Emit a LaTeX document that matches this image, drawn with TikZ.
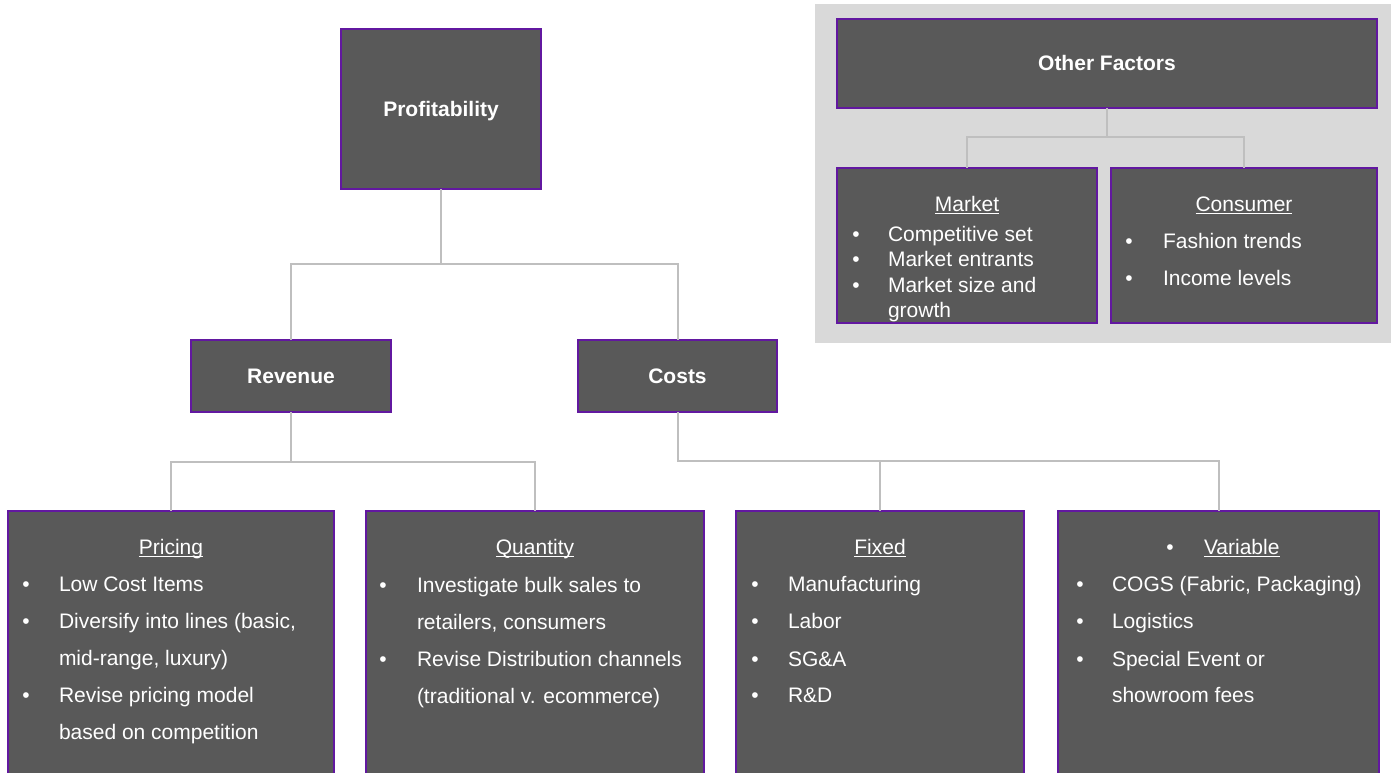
\documentclass[tikz,border=0pt]{standalone}
\usepackage{fontspec}
\setmainfont{Liberation Sans}
\definecolor{boxfill}{HTML}{595959}
\definecolor{boxline}{HTML}{6218A0}
\definecolor{connline}{HTML}{BFBFBF}
\definecolor{panelgray}{HTML}{D9D9D9}
\newcommand\ulin[1]{\setbox0\hbox{#1}\rlap{\rule[-3pt]{\wd0}{1.2pt}}\box0}
\newcommand\bulitem[5]{\node[txt,anchor=base] (#1b) at (#2,#4) {\textbullet}; \node[txt,anchor=base west] (#1) at (#3,#4) {#5};}
\newcommand\contline[4]{\node[txt,anchor=base west] (#1) at (#2,#3) {#4};}
\tikzset{
  box/.style={draw=boxline, fill=boxfill, line width=1.8pt, inner sep=0pt, outer sep=0pt,
    text=white, font=\fontsize{21}{25}\selectfont\bfseries, text height=15pt, text depth=0pt, anchor=north west},
  conn/.style={draw=connline, line width=2pt},
  txt/.style={text=white, font=\fontsize{21}{25}\selectfont, inner sep=0pt, outer sep=0pt},
}
\begin{document}
\begin{tikzpicture}[x=1pt, y=-1pt]
\clip (0,0) rectangle (1391,773);
\fill[white] (0,0) rectangle (1391,773);
% panel
\node[fill=panelgray, anchor=north west, minimum width=580pt, minimum height=339pt, inner sep=0pt] (panel) at (815,4) {};
% boxes
\node[box, minimum width=200pt, minimum height=160pt] (prof) at (341,29) {Profitability};
\node[box, minimum width=200pt, minimum height=72pt] (rev) at (191,340) {Revenue};
\node[box, minimum width=199pt, minimum height=72pt] (costs) at (578,340) {Costs};
\node[box, minimum width=326pt, minimum height=290pt] (pricing) at (8,511) {};
\node[box, minimum width=338pt, minimum height=290pt] (quantity) at (366,511) {};
\node[box, minimum width=288pt, minimum height=290pt] (fixed) at (736,511) {};
\node[box, minimum width=321pt, minimum height=290pt] (variable) at (1058,511) {};
\node[box, minimum width=540pt, minimum height=89pt] (other) at (837,19) {Other Factors};
\node[box, minimum width=260pt, minimum height=155pt] (market) at (837,168) {};
\node[box, minimum width=266pt, minimum height=155pt] (consumer) at (1111,168) {};
% connectors
\draw[conn] (prof.south) -- ++(0,75) -| (rev.north);
\draw[conn] (prof.south) -- ++(0,75) -| (costs.north);
\draw[conn] (rev.south) -- ++(0,50) -| (pricing.north);
\draw[conn] (rev.south) -- ++(0,50) -| (quantity.north);
\draw[conn] (costs.south) -- ++(0,49) -| (fixed.north);
\draw[conn] (costs.south) -- ++(0,49) -| (variable.north);
\draw[conn] (other.south) -- ++(0,29) -| (market.north);
\draw[conn] (other.south) -- ++(0,29) -| (consumer.north);
% Pricing
\node[txt, anchor=base] (pricingt) at (171,554) {\ulin{Pricing}};
\bulitem{p1}{26}{59}{591}{Low Cost Items}
\bulitem{p2}{26}{59}{628}{Diversify into lines (basic,}
\contline{p3}{59}{665}{mid-range, luxury)}
\bulitem{p4}{26}{59}{702}{Revise pricing model}
\contline{p5}{59}{739}{based on competition}
% Quantity
\node[txt, anchor=base] (quantityt) at (535,554) {\ulin{Quantity}};
\bulitem{q1}{383}{417}{592}{Investigate bulk sales to}
\contline{q2}{417}{629}{retailers, consumers}
\bulitem{q3}{383}{417}{666}{Revise Distribution channels}
\contline{q4}{417}{703}{(traditional v. ecommerce)}
% Fixed
\node[txt, anchor=base] (fixedt) at (880,554) {\ulin{Fixed}};
\bulitem{f1}{755}{788}{591}{Manufacturing}
\bulitem{f2}{755}{788}{628}{Labor}
\bulitem{f3}{755}{788}{666}{SG\&A}
\bulitem{f4}{755}{788}{702}{R\&D}
% Variable
\bulitem{vt}{1170}{1204}{554}{\ulin{Variable}}
\bulitem{v1}{1080}{1112}{591}{COGS (Fabric, Packaging)}
\bulitem{v2}{1080}{1112}{628}{Logistics}
\bulitem{v3}{1080}{1112}{666}{Special Event or}
\contline{v4}{1112}{702}{showroom fees}
% Market
\node[txt, anchor=base] (markett) at (967,211) {\ulin{Market}};
\bulitem{m1}{856}{888}{241}{Competitive set}
\bulitem{m2}{856}{888}{266}{Market entrants}
\bulitem{m3}{856}{888}{292}{Market size and}
\contline{m4}{888}{317}{growth}
% Consumer
\node[txt, anchor=base] (consumert) at (1244,211) {\ulin{Consumer}};
\bulitem{c1}{1129}{1163}{248}{Fashion trends}
\bulitem{c2}{1129}{1163}{285}{Income levels}
\end{tikzpicture}
\end{document}
